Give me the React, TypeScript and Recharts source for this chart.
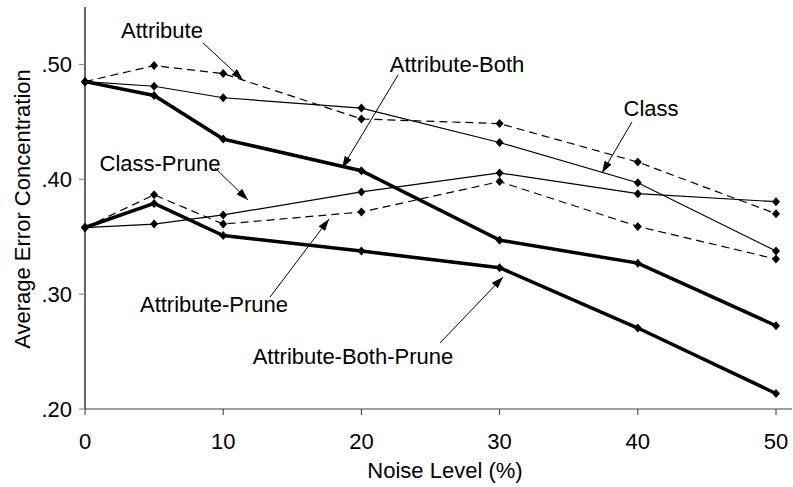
import React from "react";
import { LineChart, Line, XAxis, YAxis } from "recharts";

const noise = [0, 5, 10, 20, 30, 40, 50];
const attribute = [0.485, 0.499, 0.492, 0.4525, 0.4485, 0.415, 0.37];
const classVals = [0.485, 0.481, 0.471, 0.462, 0.432, 0.397, 0.3375];
const attributeBoth = [0.485, 0.473, 0.435, 0.4075, 0.347, 0.327, 0.2725];
const classPrune = [0.358, 0.361, 0.369, 0.389, 0.4055, 0.3875, 0.3805];
const attributePrune = [0.358, 0.3865, 0.361, 0.3715, 0.398, 0.359, 0.3305];
const attributeBothPrune = [0.358, 0.379, 0.351, 0.3375, 0.323, 0.2705, 0.2135];

const yTicks = [0.2, 0.3, 0.4, 0.5];
const xTicks = [0, 10, 20, 30, 40, 50];

// label text, label centre, arrow start, arrow tip (all in data units)
const notes = [
  { text: "Attribute", at: [5.57, 0.53], from: [8.54, 0.5187], to: [11.43, 0.4864] },
  { text: "Attribute-Both", at: [26.92, 0.5004], from: [22.65, 0.4908], to: [18.6, 0.4098] },
  { text: "Class", at: [40.96, 0.4621], from: [39.58, 0.4499], to: [37.41, 0.4055] },
  { text: "Class-Prune", at: [5.43, 0.4142], from: [9.41, 0.4098], to: [11.79, 0.382] },
  { text: "Attribute-Prune", at: [9.33, 0.2914], from: [13.39, 0.2975], to: [17.66, 0.3654] },
  { text: "Attribute-Both-Prune", at: [19.39, 0.2461], from: [25.69, 0.2575], to: [30.25, 0.3149] },
];

const data = noise.map((n, i) => ({
  noise: n,
  attribute: attribute[i],
  classVals: classVals[i],
  attributeBoth: attributeBoth[i],
  classPrune: classPrune[i],
  attributePrune: attributePrune[i],
  attributeBothPrune: attributeBothPrune[i],
}));

const W = 793;
const H = 487;
const LEFT = 85;
const RIGHT = 776;
const TOP = 7;
const BOTTOM = 409;
const FONT = "'Liberation Sans', Arial, sans-serif";

// same mapping as the chart's plot area, for the overlay notes
const px = (x: number) => LEFT + (x / 50) * (RIGHT - LEFT);
const py = (y: number) => BOTTOM - ((y - 0.2) / 0.35) * (BOTTOM - TOP);

function Diamond(props: any) {
  const { cx, cy, index } = props;
  if (cx == null || cy == null) return <g key={index} />;
  return (
    <path
      key={index}
      d={`M${cx},${cy - 4.5} L${cx + 4},${cy} L${cx},${cy + 4.5} L${cx - 4},${cy} Z`}
      fill="#000"
    />
  );
}

const series = [
  { key: "attribute", width: 1.2, dash: "8 5" },
  { key: "classVals", width: 1.2, dash: undefined },
  { key: "attributeBoth", width: 3.5, dash: undefined },
  { key: "classPrune", width: 1.2, dash: undefined },
  { key: "attributePrune", width: 1.2, dash: "8 5" },
  { key: "attributeBothPrune", width: 3.5, dash: undefined },
];

export default function App() {
  return (
    <div style={{ position: "relative", width: W, height: H, fontFamily: FONT }}>
      <style>{"body{margin:0}"}</style>
      <LineChart
        width={W}
        height={H}
        data={data}
        margin={{ top: TOP, right: W - RIGHT, bottom: 0, left: 0 }}
      >
        <XAxis
          dataKey="noise"
          type="number"
          domain={[0, 50]}
          ticks={xTicks}
          height={H - BOTTOM}
          axisLine={{ stroke: "#808080", strokeWidth: 1.5 }}
          tickLine={{ stroke: "#333" }}
          tickSize={6}
          tickMargin={18}
          tick={{ fontSize: 22, fill: "#000", fontFamily: FONT }}
        />
        <YAxis
          type="number"
          domain={[0.2, 0.55]}
          ticks={yTicks}
          width={LEFT}
          allowDataOverflow
          axisLine={{ stroke: "#000", strokeWidth: 1.2 }}
          tickLine={{ stroke: "#808080" }}
          tickSize={6}
          tickMargin={7}
          tickFormatter={(v: number) => v.toFixed(2).replace(/^0/, "")}
          tick={{ fontSize: 22, fill: "#000", fontFamily: FONT }}
        />
        {series.map((s) => (
          <Line
            key={s.key}
            dataKey={s.key}
            type="linear"
            stroke="#000"
            strokeWidth={s.width}
            strokeDasharray={s.dash}
            dot={Diamond}
            activeDot={false}
            isAnimationActive={false}
          />
        ))}
      </LineChart>
      <svg
        width={W}
        height={H}
        style={{ position: "absolute", left: 0, top: 0, pointerEvents: "none" }}
        fontFamily={FONT}
      >
        <defs>
          <marker
            id="head"
            viewBox="0 0 12 8"
            refX="12"
            refY="4"
            markerWidth="12"
            markerHeight="8"
            markerUnits="userSpaceOnUse"
            orient="auto"
          >
            <path d="M0,0 L12,4 L0,8 Z" fill="#000" />
          </marker>
        </defs>
        <line x1={RIGHT} y1={BOTTOM} x2={W - 1} y2={BOTTOM} stroke="#808080" strokeWidth={1.5} />
        {notes.map((n) => (
          <g key={n.text}>
            <line
              x1={px(n.from[0])}
              y1={py(n.from[1])}
              x2={px(n.to[0])}
              y2={py(n.to[1])}
              stroke="#000"
              strokeWidth={1}
              markerEnd="url(#head)"
            />
            <text
              x={px(n.at[0])}
              y={py(n.at[1])}
              dy="0.35em"
              textAnchor="middle"
              fontSize={22}
              fill="#000"
            >
              {n.text}
            </text>
          </g>
        ))}
        <text x={445} y={470} dy="0.35em" textAnchor="middle" fontSize={22} fill="#000">
          Noise Level (%)
        </text>
        <text
          x={22}
          y={209}
          dy="0.35em"
          textAnchor="middle"
          fontSize={22}
          fill="#000"
          transform="rotate(-90 22 209)"
        >
          Average Error Concentration
        </text>
      </svg>
    </div>
  );
}
